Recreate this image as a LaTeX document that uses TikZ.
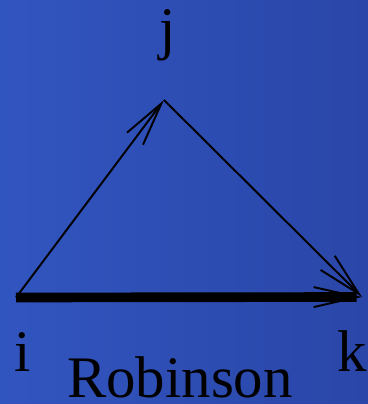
\documentclass[tikz,border=0pt]{standalone}
\usepackage{fontspec}
\setmainfont{Liberation Serif}
\usepackage{xcolor}
\usepackage{tikz}
\usetikzlibrary{arrows.meta}

\definecolor{bgleft}{RGB}{49,85,191}
\definecolor{bgright}{RGB}{42,70,168}

\begin{document}
\begin{tikzpicture}[
    font=\fontsize{33.5}{40}\selectfont,
    lbl/.style={anchor=base, inner sep=0pt, text=black},
    edge/.style={-{Straight Barb[length=0.88cm, width=0.4cm, line width=1.1pt]}, line width=1.1pt, black},
    heavy/.style={-{Straight Barb[length=0.88cm, width=0.4cm, line width=1.1pt]}, line width=5.5pt, black},
]
% Background
\shade[left color=bgleft, right color=bgright] (0,0) rectangle (7.36,8.08);
\useasboundingbox (0,0) rectangle (7.36,8.08);

% Vertices
\coordinate (vi) at (0.32,2.13);
\coordinate (vj) at (3.28,6.08);
\coordinate (vk) at (7.24,2.14);

% Labels
\node[lbl] (lj) at (3.36,7.10) {j};
\node[lbl] (li) at (0.46,0.64) {i};
\node[lbl] (lk) at (7.05,0.64) {k};
\node[lbl] (name) at (3.60,0.13) {Robinson};

% Edges
\draw[edge] (vi) -- (vj);
\draw[edge] (vj) -- (vk);
\draw[heavy] (vi) -- (vk);
\end{tikzpicture}
\end{document}
